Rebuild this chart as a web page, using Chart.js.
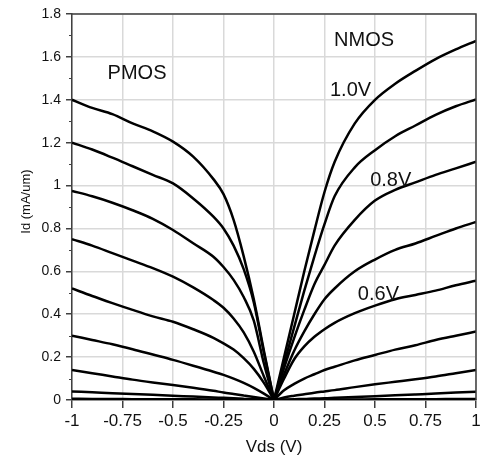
<!DOCTYPE html>
<html>
<head>
<meta charset="utf-8">
<script src="https://cdn.jsdelivr.net/npm/chart.js@4.4.1/dist/chart.umd.min.js"></script>
<style>
  html, body { margin: 0; padding: 0; background: #fff; }
  #wrap { width: 489px; height: 459px; position: relative; }
</style>
</head>
<body>
<div id="wrap"><canvas id="iv-chart"></canvas></div>
<script>
// drain voltage sweep points (V)
var vdsP = [-1, -0.9, -0.8, -0.7, -0.6, -0.5, -0.4, -0.3, -0.25, -0.2, -0.15, -0.1, -0.05, 0]
var vdsN = [0, 0.05, 0.1, 0.15, 0.2, 0.25, 0.3, 0.4, 0.5, 0.6, 0.7, 0.8, 0.9, 1.0]

// PMOS drain current (mA/um), |Vgs| = 1.0 ... 0.1 V
var idP10 = [1.40, 1.362, 1.333, 1.29, 1.253, 1.205, 1.135, 1.03, 0.96, 0.84, 0.67, 0.47, 0.23, 0]
var idP09 = [1.20, 1.168, 1.13, 1.09, 1.05, 1.01, 0.94, 0.855, 0.80, 0.72, 0.61, 0.455, 0.22, 0]
var idP08 = [0.975, 0.95, 0.92, 0.885, 0.845, 0.793, 0.731, 0.668, 0.62, 0.56, 0.48, 0.37, 0.17, 0]
var idP07 = [0.75, 0.72, 0.685, 0.65, 0.615, 0.575, 0.525, 0.466, 0.43, 0.38, 0.315, 0.225, 0.11, 0]
var idP06 = [0.52, 0.485, 0.452, 0.42, 0.39, 0.365, 0.33, 0.29, 0.264, 0.235, 0.195, 0.145, 0.08, 0]
var idP05 = [0.30, 0.28, 0.26, 0.237, 0.212, 0.187, 0.16, 0.132, 0.117, 0.10, 0.08, 0.057, 0.03, 0]
var idP04 = [0.14, 0.125, 0.11, 0.095, 0.082, 0.07, 0.057, 0.043, 0.035, 0.028, 0.021, 0.014, 0.007, 0]
var idP03 = [0.04, 0.036, 0.032, 0.028, 0.024, 0.02, 0.016, 0.012, 0.01, 0.008, 0.006, 0.004, 0.002, 0]
var idP02 = [0.006, 0.005, 0.005, 0.004, 0.004, 0.003, 0.003, 0.002, 0.002, 0.001, 0.001, 0.001, 0, 0]
var idP01 = [0, 0, 0, 0, 0, 0, 0, 0, 0, 0, 0, 0, 0, 0]

// NMOS drain current (mA/um), Vgs = 1.0 ... 0.1 V
var idN10 = [0, 0.20, 0.40, 0.60, 0.79, 0.97, 1.11, 1.29, 1.40, 1.475, 1.535, 1.59, 1.635, 1.675]
var idN09 = [0, 0.17, 0.34, 0.51, 0.67, 0.82, 0.95, 1.085, 1.165, 1.23, 1.28, 1.33, 1.37, 1.402]
var idN08 = [0, 0.15, 0.29, 0.42, 0.54, 0.63, 0.72, 0.84, 0.93, 0.98, 1.015, 1.05, 1.08, 1.111]
var idN07 = [0, 0.12, 0.23, 0.32, 0.40, 0.47, 0.52, 0.60, 0.655, 0.70, 0.73, 0.765, 0.80, 0.83]
var idN06 = [0, 0.10, 0.19, 0.25, 0.295, 0.33, 0.36, 0.405, 0.44, 0.47, 0.49, 0.51, 0.535, 0.556]
var idN05 = [0, 0.045, 0.075, 0.10, 0.12, 0.14, 0.155, 0.185, 0.21, 0.235, 0.255, 0.28, 0.30, 0.319]
var idN04 = [0, 0.012, 0.02, 0.027, 0.034, 0.04, 0.046, 0.06, 0.073, 0.085, 0.097, 0.11, 0.125, 0.14]
var idN03 = [0, 0.002, 0.004, 0.005, 0.007, 0.008, 0.01, 0.014, 0.018, 0.022, 0.026, 0.03, 0.035, 0.039]
var idN02 = [0, 0, 0.001, 0.001, 0.001, 0.002, 0.002, 0.002, 0.003, 0.003, 0.004, 0.004, 0.005, 0.005]
var idN01 = [0, 0, 0, 0, 0, 0, 0, 0, 0, 0, 0, 0, 0, 0]

var pmosCurves = [idP10, idP09, idP08, idP07, idP06, idP05, idP04, idP03, idP02, idP01]
var nmosCurves = [idN10, idN09, idN08, idN07, idN06, idN05, idN04, idN03, idN02, idN01]

var FONT = "'Liberation Sans', Arial, sans-serif"
var AXIS = '#404040'

function toPoints(xs, ys) {
    return xs.map(function (x, i) { return { x: x, y: ys[i] } })
}

var datasets = []
pmosCurves.forEach(function (c) {
    datasets.push({ data: toPoints(vdsP, c) })
})
nmosCurves.forEach(function (c) {
    datasets.push({ data: toPoints(vdsN, c) })
})
datasets.forEach(function (d) {
    d.showLine = true
    d.borderColor = '#000'
    d.borderWidth = 2.5
    d.pointRadius = 0
    d.cubicInterpolationMode = 'monotone'
})

// box around the plot, short minor ticks on the y axis, and curve labels
var framePlugin = {
    id: 'frame',
    afterDraw: function (chart) {
        var ctx = chart.ctx
        var a = chart.chartArea
        var ys = chart.scales.y
        var xs = chart.scales.x
        ctx.save()
        ctx.strokeStyle = AXIS
        ctx.lineWidth = 1.5
        ctx.beginPath()
        ctx.moveTo(a.left, a.top)
        ctx.lineTo(a.right, a.top)
        ctx.lineTo(a.right, a.bottom)
        ctx.stroke()

        ctx.lineWidth = 1
        var t = ys.ticks
        for (var i = 0; i < t.length - 1; i++) {
            var py = Math.round(ys.getPixelForValue((t[i].value + t[i + 1].value) / 2)) + 0.5
            ctx.beginPath()
            ctx.moveTo(a.left - 3, py)
            ctx.lineTo(a.left, py)
            ctx.stroke()
        }

        ctx.fillStyle = '#111'
        ctx.font = '20px ' + FONT
        ctx.textAlign = 'center'
        ctx.textBaseline = 'middle'
        chart.options.plugins.frame.labels.forEach(function (l) {
            ctx.fillText(l.text, xs.getPixelForValue(l.x), ys.getPixelForValue(l.y))
        })
        ctx.restore()
    }
}

new Chart(document.getElementById('iv-chart'), {
    type: 'scatter',
    data: { datasets: datasets },
    plugins: [framePlugin],
    options: {
        responsive: true,
        maintainAspectRatio: false,
        animation: false,
        layout: { padding: { top: 14, right: 13, left: 0, bottom: 0 } },
        plugins: {
            legend: { display: false },
            tooltip: { enabled: false },
            frame: {
                labels: [
                    { text: 'PMOS', x: -0.678, y: 1.523 },
                    { text: 'NMOS', x: 0.446, y: 1.675 },
                    { text: '1.0V', x: 0.379, y: 1.444 },
                    { text: '0.8V', x: 0.578, y: 1.022 },
                    { text: '0.6V', x: 0.517, y: 0.493 }
                ]
            }
        },
        scales: {
            x: {
                type: 'linear',
                min: -1,
                max: 1,
                afterFit: function (s) { s.height = 59 },
                border: { color: AXIS, width: 1.5 },
                grid: { color: '#d9d9d9', lineWidth: 1.5, tickColor: AXIS, tickLength: 8 },
                ticks: {
                    stepSize: 0.25,
                    color: '#111',
                    padding: 3,
                    font: { family: FONT, size: 17 },
                    callback: function (v) { return String(Math.round(v * 100) / 100) }
                },
                title: {
                    display: true,
                    text: 'Vds (V)',
                    color: '#111',
                    font: { family: FONT, size: 17 },
                    padding: { top: 0, bottom: 1 }
                }
            },
            y: {
                min: 0,
                max: 1.8,
                afterFit: function (s) { s.width = 72 },
                border: { color: AXIS, width: 1.5 },
                grid: { color: '#d9d9d9', lineWidth: 1.5, tickColor: AXIS, tickLength: 6 },
                ticks: {
                    stepSize: 0.2,
                    color: '#111',
                    padding: 5,
                    font: { family: FONT, size: 14 },
                    callback: function (v) { return String(Math.round(v * 10) / 10) }
                },
                title: {
                    display: true,
                    text: '   Id (mA/um)',
                    color: '#111',
                    font: { family: FONT, size: 13 },
                    padding: { top: 19, bottom: 0 }
                }
            }
        }
    }
})
</script>
</body>
</html>
